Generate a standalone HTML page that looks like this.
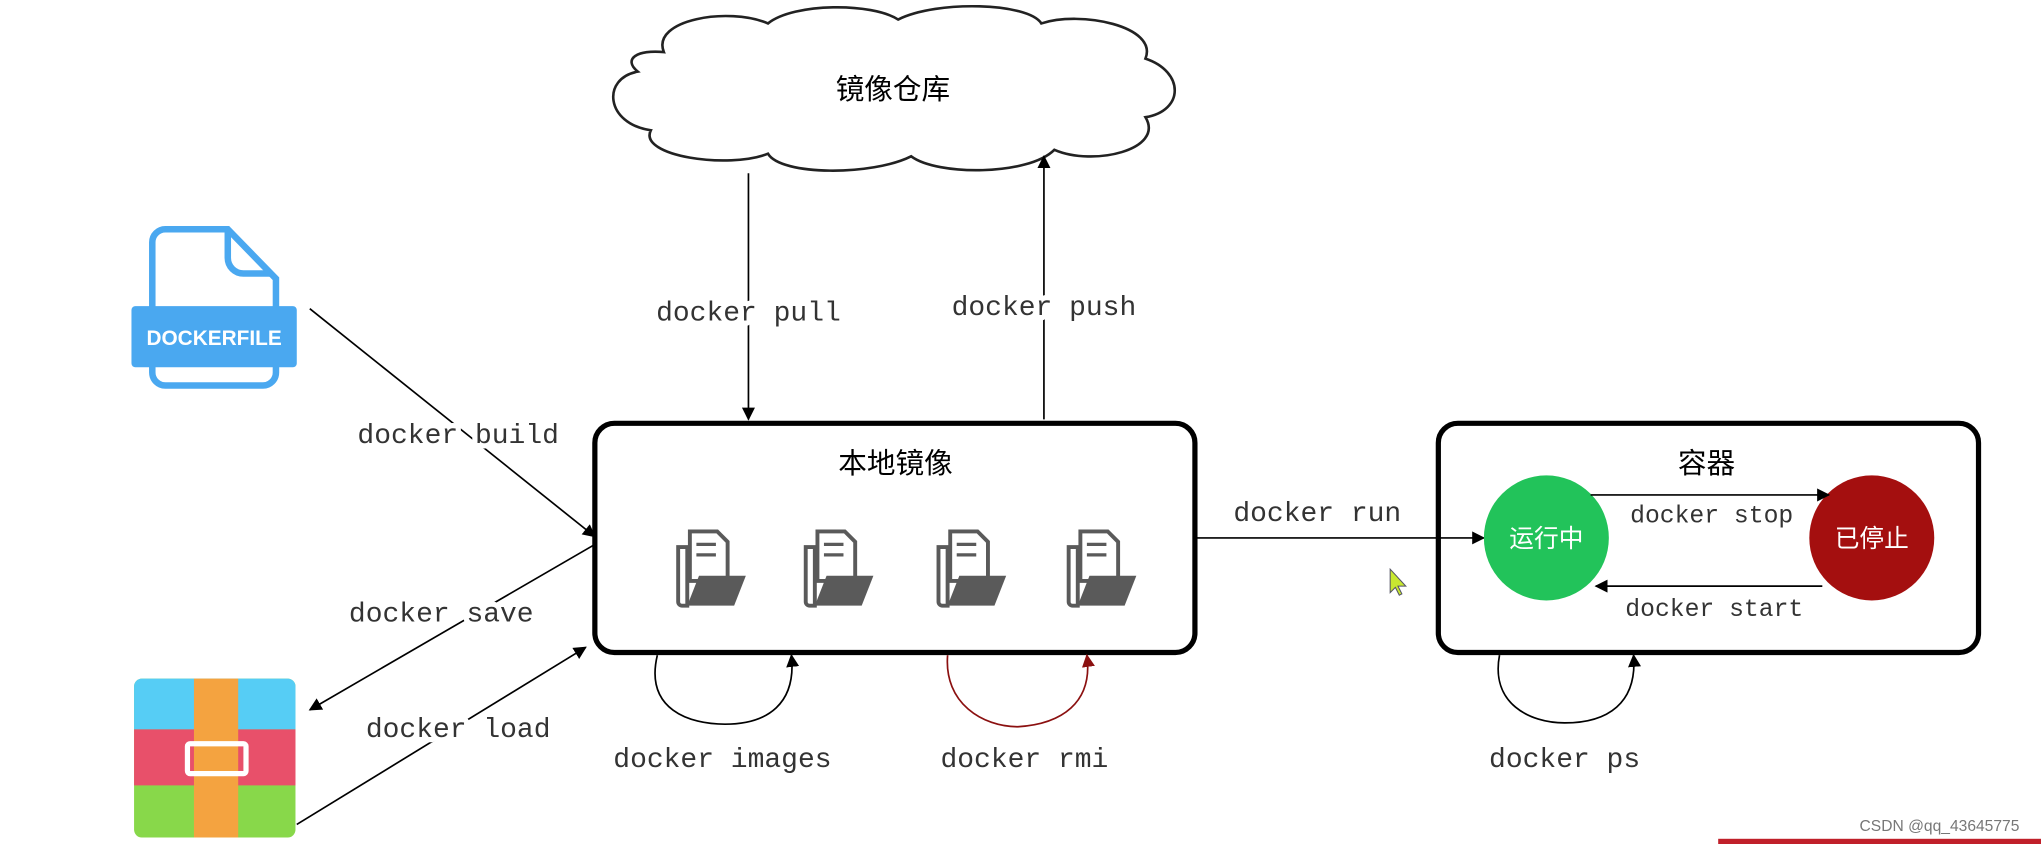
<!DOCTYPE html>
<html><head><meta charset="utf-8"><style>
html,body{margin:0;padding:0;background:#fff;}
svg{display:block;}
.m{font-family:"Liberation Mono","DejaVu Sans Mono",monospace;font-size:21.5px;fill:#333;text-anchor:middle;stroke:#fff;stroke-width:8px;paint-order:stroke;stroke-linejoin:round;}
.s{font-size:19px;}
.c{font-family:"Liberation Sans","Noto Sans CJK SC",sans-serif;text-anchor:middle;}
</style></head><body>
<svg width="2041" height="844" viewBox="0 0 1568 648" preserveAspectRatio="none" xmlns="http://www.w3.org/2000/svg">
<defs>
<marker id="a" markerWidth="10" markerHeight="10" refX="9" refY="5" orient="auto" markerUnits="userSpaceOnUse"><path d="M0,0 L10,5 L0,10 z" fill="#000"/></marker>
<marker id="r" markerWidth="10" markerHeight="10" refX="9" refY="5" orient="auto" markerUnits="userSpaceOnUse"><path d="M0,0 L10,5 L0,10 z" fill="#8b1010"/></marker>
<g id="fold">
<path d="M-24,-20 v42 a3,3 0 0 0 3,3 h4 v-45 z" fill="none" stroke="#5a5a5a" stroke-width="3"/>
<path d="M-15,-32 h21 l8,8 v30 h-29 z" fill="#fff" stroke="#5a5a5a" stroke-width="3"/>
<path d="M-10,-22 h15 M-10,-14 h15" stroke="#5a5a5a" stroke-width="2.5"/>
<path d="M-17,25 l9,-23 h36 l-9,23 z" fill="#5a5a5a"/>
</g>
</defs>
<!-- cloud -->
<path d="M510,40 C500,15 560,5 590,18 C610,2 670,2 690,15 C720,0 790,2 800,18 C830,8 890,20 880,45 C910,55 910,85 880,90 C895,115 840,128 810,115 C790,135 720,135 700,120 C670,135 600,135 590,118 C560,130 490,120 500,100 C465,95 462,60 490,55 C478,45 490,38 510,40 Z" fill="#fff" stroke="#222" stroke-width="2"/>
<text x="686" y="76" class="c" font-size="22">镜像仓库</text>
<!-- dockerfile -->
<path d="M127,176 h48 l37,38 v72 a10,10 0 0 1 -10,10 h-75 a10,10 0 0 1 -10,-10 v-100 a10,10 0 0 1 10,-10 z" fill="#fff" stroke="#4aa8f0" stroke-width="5"/>
<path d="M175,178 v20 a12,12 0 0 0 12,12 h22" fill="none" stroke="#4aa8f0" stroke-width="5"/>
<rect x="101" y="235" width="127" height="47" rx="3" fill="#4aa8f0"/>
<text x="164.5" y="265" class="c" font-size="16" font-weight="bold" fill="#fff">DOCKERFILE</text>
<!-- archive -->
<rect x="103" y="521" width="124" height="122" rx="6" fill="#88d84a"/>
<path d="M103,560 v-33 a6,6 0 0 1 6,-6 h112 a6,6 0 0 1 6,6 v33 z" fill="#56cdf5"/>
<rect x="103" y="560" width="124" height="43" fill="#e8506a"/>
<rect x="149" y="521" width="34" height="122" fill="#f4a340"/>
<rect x="144" y="571" width="45" height="23" rx="2" fill="none" stroke="#fff" stroke-width="4"/>
<!-- connectors -->
<line x1="575" y1="133" x2="575" y2="322" stroke="#000" stroke-width="1.3" marker-end="url(#a)"/>
<line x1="802" y1="322" x2="802" y2="120" stroke="#000" stroke-width="1.3" marker-end="url(#a)"/>
<line x1="238" y1="237" x2="457" y2="412" stroke="#000" stroke-width="1.3" marker-end="url(#a)"/>
<line x1="457" y1="418" x2="238" y2="545" stroke="#000" stroke-width="1.3" marker-end="url(#a)"/>
<line x1="228" y1="633" x2="450" y2="497" stroke="#000" stroke-width="1.3" marker-end="url(#a)"/>
<text x="575" y="246" class="m">docker pull</text>
<text x="802" y="242" class="m">docker push</text>
<text x="352" y="340" class="m">docker build</text>
<text x="339" y="477" class="m">docker save</text>
<text x="352" y="566" class="m">docker load</text>
<!-- local box -->
<rect x="457" y="325" width="461" height="176" rx="15" fill="#fff" stroke="#000" stroke-width="4"/>
<text x="688" y="363" class="c" font-size="22">本地镜像</text>
<use href="#fold" x="545" y="440"/><use href="#fold" x="643" y="440"/><use href="#fold" x="745" y="440"/><use href="#fold" x="845" y="440"/>
<!-- container box -->
<rect x="1105" y="325" width="415" height="176" rx="15" fill="#fff" stroke="#000" stroke-width="4"/>
<line x1="918" y1="413" x2="1140" y2="413" stroke="#000" stroke-width="1.3" marker-end="url(#a)"/>
<text x="1012" y="400" class="m">docker run</text>
<text x="1311" y="363" class="c" font-size="22">容器</text>
<circle cx="1188" cy="413" r="48" fill="#22c35a"/>
<text x="1188" y="420" class="c" font-size="19" fill="#fff">运行中</text>
<circle cx="1438" cy="413" r="48" fill="#a40f0f"/>
<text x="1438" y="420" class="c" font-size="19" fill="#fff">已停止</text>
<line x1="1222" y1="380" x2="1405" y2="380" stroke="#000" stroke-width="1.3" marker-end="url(#a)"/>
<line x1="1400" y1="450" x2="1226" y2="450" stroke="#000" stroke-width="1.3" marker-end="url(#a)"/>
<text x="1315" y="401" class="m s">docker stop</text>
<text x="1317" y="473" class="m s">docker start</text>
<!-- loops -->
<path d="M505,503 C495,545 530,556 557,556 C590,556 612,540 608,503" fill="none" stroke="#000" stroke-width="1.3" marker-end="url(#a)"/>
<path d="M728,503 C725,540 755,558 782,558 C815,556 840,540 835,503" fill="none" stroke="#8b1010" stroke-width="1.3" marker-end="url(#r)"/>
<path d="M1152,503 C1145,540 1175,555 1202,555 C1235,555 1258,540 1255,503" fill="none" stroke="#000" stroke-width="1.3" marker-end="url(#a)"/>
<text x="555" y="589" class="m">docker images</text>
<text x="787" y="589" class="m">docker rmi</text>
<text x="1202" y="589" class="m">docker ps</text>
<!-- cursor -->
<path d="M1068,437 v18 l4,-4 l3,6 l2,-1 l-3,-6 h6 z" fill="#c8e830" stroke="#556" stroke-width="0.8"/>
<!-- watermark -->
<text x="1490" y="638" class="c" font-size="12" fill="#777">CSDN @qq_43645775</text>
<rect x="1320" y="644" width="248" height="4" fill="#c0202a"/>
</svg>
</body></html>
